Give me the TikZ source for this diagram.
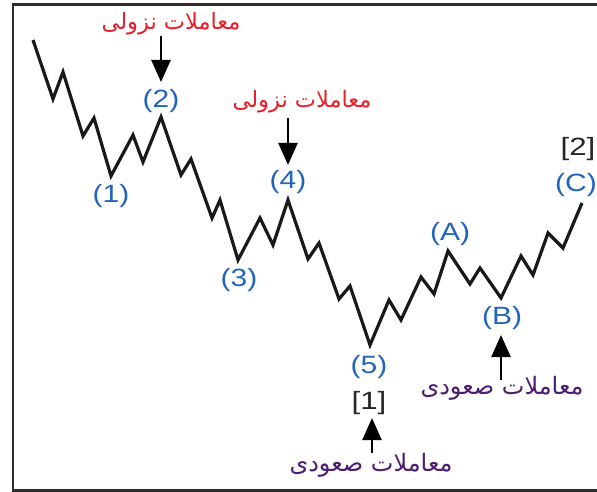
\documentclass[tikz,border=0pt]{standalone}
\usepackage{fontspec}
\setmainfont{Liberation Sans}
\newfontfamily\arabicfont[Script=Arabic]{DejaVu Sans}
\TeXXeTstate=1
\usetikzlibrary{arrows.meta}
\definecolor{wavelbl}{RGB}{35,100,190}
\definecolor{selltxt}{RGB}{232,30,40}
\definecolor{buytxt}{RGB}{78,28,112}
\definecolor{framecol}{RGB}{45,45,45}
\def\lblsize{\fontsize{25}{25}\selectfont}
\def\selsize{\fontsize{22.5}{22.5}\selectfont}
\def\buysize{\fontsize{24}{24}\selectfont}

\begin{document}
\begin{tikzpicture}[x=1pt, y=-1pt,
    wave/.style={line width=3.2pt, line join=miter, black!90},
    lbl/.style={font=\lblsize, text=wavelbl, inner sep=0pt, xscale=1.2},
    deg/.style={font=\lblsize, text=black!85, inner sep=0pt, xscale=1.25},
    sell/.style={font=\arabicfont\selsize, text=selltxt, inner sep=0pt},
    buy/.style={font=\arabicfont\buysize, text=buytxt, inner sep=0pt},
    arr/.style={line width=2.5pt, -{Triangle[width=19pt, length=22pt]}}]
    \useasboundingbox (0,0) rectangle (597,492);
    % Frame, open past the right edge.
    \begin{scope}
        \clip (0,0) rectangle (597,492);
        \draw[line width=2.5pt, framecol] (13,4.5) rectangle (620,490.5);
    \end{scope}

    % Wave vertices.
    \foreach \i/\x/\y in {0/33/40, 1/53/99, 2/63/72, 3/83/136, 4/94/118, 5/111/176,
            6/133/135, 7/143/162, 8/161/117, 9/181/175, 10/191/159, 11/212/218,
            12/220/200, 13/238/260, 14/260/218, 15/273/245, 16/288/200, 17/308/259,
            18/319/243, 19/339/299, 20/350/286, 21/370/345, 22/389/300, 23/401/320,
            24/421/277, 25/434/294, 26/448/251, 27/470/284, 28/480/268, 29/501/298,
            30/521/256, 31/533/275, 32/548/233, 33/563/248, 34/582/203} {
            \coordinate (p\i) at (\x,\y);
        }
    \draw[wave] (p0) \foreach \i in {1,...,34} {-- (p\i)};

    % Wave labels.
    \node[lbl] (w1) at (111,196) {(1)};
    \node[lbl] (w2) at (161,101) {(2)};
    \node[lbl] (w3) at (239,280) {(3)};
    \node[lbl] (w4) at (288,182) {(4)};
    \node[lbl] (w5) at (369,367) {(5)};
    \node[lbl] (wA) at (450,234) {(A)};
    \node[lbl] (wB) at (502,318) {(B)};
    \node[lbl] (wC) at (576,185) {(C)};
    \node[deg] (d1) at (369,403) {[1]};
    \node[deg] (d2) at (578,149) {[2]};

    % Sell and buy notes.
    \node[sell] (s2) at (171,24) {\beginR معاملات نزولی\endR};
    \node[sell] (s4) at (302,102) {\beginR معاملات نزولی\endR};
    \node[buy] (bB) at (502,388) {\beginR معاملات صعودی\endR};
    \node[buy] (b1) at (371,465) {\beginR معاملات صعودی\endR};

    % Arrow ends.
    \coordinate (s2a) at (161,36);  \coordinate (s2b) at (161,82);
    \coordinate (s4a) at (288,118); \coordinate (s4b) at (288,165);
    \coordinate (bBa) at (501,380); \coordinate (bBb) at (501,335);
    \coordinate (b1a) at (372,453); \coordinate (b1b) at (372,418);
    \draw[arr] (s2a) -- (s2b);
    \draw[arr] (s4a) -- (s4b);
    \draw[arr] (bBa) -- (bBb);
    \draw[arr] (b1a) -- (b1b);
\end{tikzpicture}
\end{document}
